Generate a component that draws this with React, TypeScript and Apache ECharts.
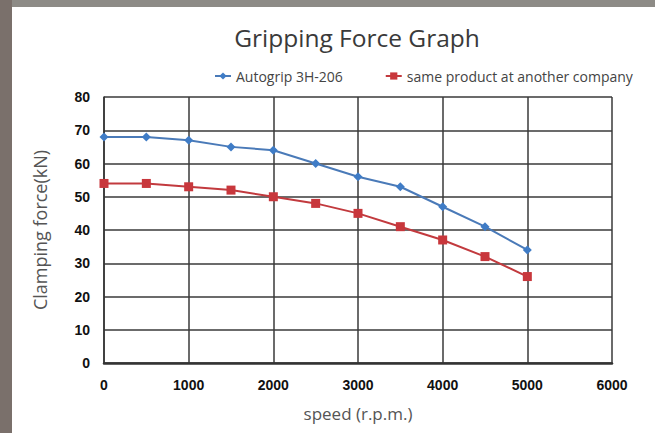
import React, { useEffect, useRef } from "react";
import * as echarts from "echarts";

const speeds = [0, 500, 1000, 1500, 2000, 2500, 3000, 3500, 4000, 4500, 5000];
const autogrip = [68, 68, 67, 65, 64, 60, 56, 53, 47, 41, 34];
const competitor = [54, 54, 53, 52, 50, 48, 45, 41, 37, 32, 26];
const seriesNames = ["Autogrip 3H-206", "same product at another company"];

export default function App() {
  const ref = useRef<HTMLDivElement>(null);
  useEffect(() => {
    if (!ref.current) return;
    const chart = echarts.init(ref.current, null, { renderer: "svg" });
    const geo = "'Open Sans', 'DejaVu Sans', sans-serif";
    chart.setOption({
      animation: false,
      backgroundColor: "#ffffff",
      graphic: [
        { type: "rect", left: 0, top: 0, shape: { width: 655, height: 7 }, style: { fill: "#8d8b86" }, z: -10 },
        { type: "rect", left: 0, top: 0, shape: { width: 12, height: 433 }, style: { fill: "#7a706b" }, z: -10 },
      ],
      title: {
        text: "Gripping Force Graph",
        left: 352,
        textAlign: "center",
        top: 20,
        textStyle: { fontFamily: geo, fontSize: 24.5, fontWeight: "normal", color: "#3a3a3a" },
      },
      legend: {
        top: 64,
        left: 209,
        itemGap: 42,
        itemWidth: 16,
        itemHeight: 9,
        textStyle: { fontFamily: geo, fontSize: 14, color: "#444" },
        data: seriesNames,
      },
      grid: { left: 104, right: 43, top: 97, bottom: 70, containLabel: false },
      xAxis: {
        type: "value",
        min: 0,
        max: 6000,
        interval: 1000,
        name: "speed (r.p.m.)",
        nameLocation: "middle",
        nameGap: 42,
        nameTextStyle: { fontFamily: geo, fontSize: 17, color: "#555" },
        axisLine: { show: true, lineStyle: { color: "#333", width: 2.5 } },
        axisTick: { show: false },
        splitLine: { show: true, lineStyle: { color: "#3a3a3a", width: 1.5 } },
        axisLabel: {
          margin: 15,
          formatter: (v: number) => String(v),
          fontFamily: "'Liberation Sans', Arial, sans-serif",
          fontWeight: "bold",
          fontSize: 14,
          color: "#111",
        },
      },
      yAxis: {
        type: "value",
        min: 0,
        max: 80,
        interval: 10,
        name: "Clamping force(kN)",
        nameLocation: "middle",
        nameGap: 55,
        nameTextStyle: { fontFamily: geo, fontSize: 18, color: "#555" },
        axisLine: { show: true, lineStyle: { color: "#333", width: 1.5 } },
        axisTick: { show: false },
        splitLine: { show: true, lineStyle: { color: "#3a3a3a", width: 1.5 } },
        axisLabel: {
          margin: 14,
          fontFamily: "'Liberation Sans', Arial, sans-serif",
          fontWeight: "bold",
          fontSize: 14,
          color: (v: number) => (v === 0 ? "#888" : "#111"),
        },
      },
      series: [
        {
          name: seriesNames[0],
          type: "line",
          data: speeds.map((s, i) => [s, autogrip[i]]),
          symbol: "diamond",
          symbolSize: 9,
          itemStyle: { color: "#3f7cc6" },
          lineStyle: { color: "#4a7ab8", width: 2 },
        },
        {
          name: seriesNames[1],
          type: "line",
          data: speeds.map((s, i) => [s, competitor[i]]),
          symbol: "rect",
          symbolSize: 9,
          itemStyle: { color: "#c8373c" },
          lineStyle: { color: "#c23a3e", width: 2 },
        },
      ],
    });
    return () => chart.dispose();
  }, []);
  return <div ref={ref} style={{ width: 655, height: 433, position: "fixed", left: 0, top: 0 }} />;
}
